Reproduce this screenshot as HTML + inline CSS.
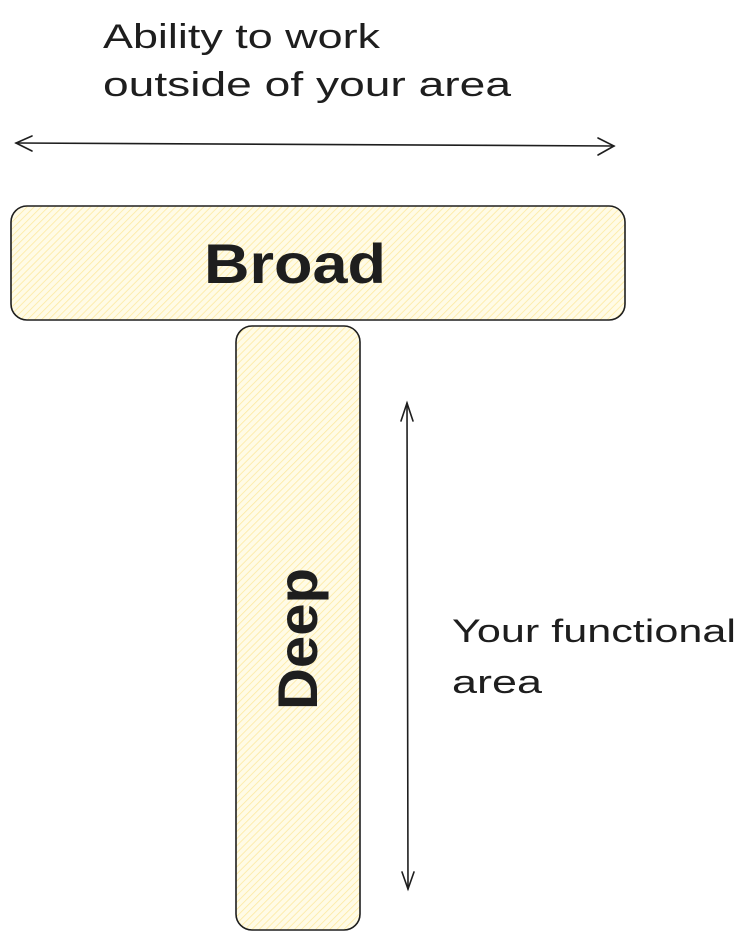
<!DOCTYPE html>
<html><head><meta charset="utf-8"><style>body{margin:0;background:#fff}svg{display:block}</style></head><body>
<svg width="750" height="948" viewBox="0 0 750 948" xmlns="http://www.w3.org/2000/svg">
<defs>
<pattern id="h" patternUnits="userSpaceOnUse" width="5" height="5" patternTransform="rotate(45)">
<rect width="5" height="5" fill="#fffbe6"/>
<line x1="0" y1="0" x2="0" y2="5" stroke="#fde9a0" stroke-width="1.6"/>
</pattern>
</defs>
<g font-family="Liberation Sans, sans-serif" fill="#1e1e1e">
<text x="103" y="48" font-size="34" textLength="277" lengthAdjust="spacingAndGlyphs">Ability to work</text>
<text x="103" y="96" font-size="34" textLength="408" lengthAdjust="spacingAndGlyphs">outside of your area</text>
</g>
<g stroke="#1e1e1e" stroke-width="1.6" fill="none" stroke-linecap="round">
<line x1="16" y1="143" x2="614" y2="146"/>
<path d="M32 136 L16 143 L32 151"/>
<path d="M598 138 L614 146 L598 155"/>
<rect x="11" y="206" width="614" height="114" rx="16" fill="url(#h)"/>
<rect x="236" y="326" width="124" height="604" rx="16" fill="url(#h)"/>
<line x1="407" y1="403" x2="408" y2="889"/>
<path d="M401 421 L407 403 L413 421"/>
<path d="M402 872 L408 889 L414 872"/>
</g>
<g font-family="Liberation Sans, sans-serif" fill="#1e1e1e" font-weight="bold">
<text x="204" y="283" font-size="56" textLength="182" lengthAdjust="spacingAndGlyphs">Broad</text>
<text transform="translate(317,710) rotate(-90)" font-size="56" textLength="142" lengthAdjust="spacingAndGlyphs">Deep</text>
</g>
<g font-family="Liberation Sans, sans-serif" fill="#1e1e1e">
<text x="452" y="642" font-size="32" textLength="284" lengthAdjust="spacingAndGlyphs">Your functional</text>
<text x="452" y="693" font-size="32" textLength="90" lengthAdjust="spacingAndGlyphs">area</text>
</g>
</svg>
</body></html>
